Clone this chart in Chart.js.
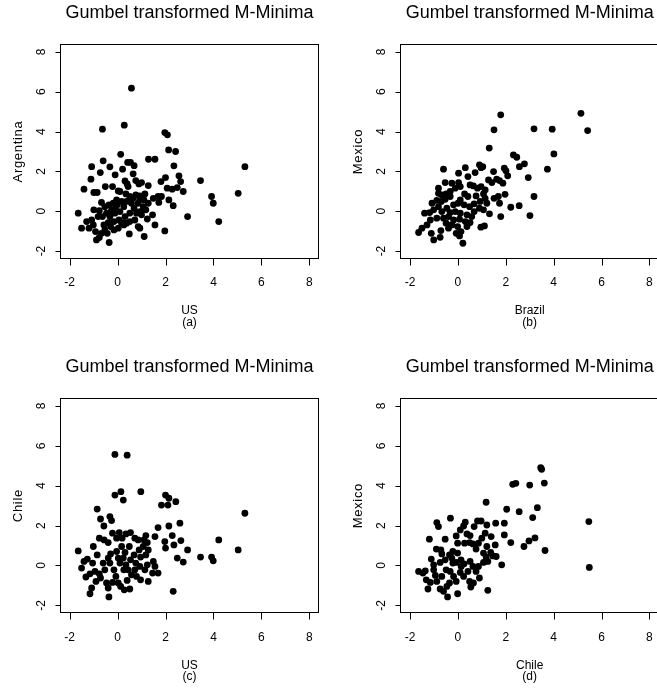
<!DOCTYPE html>
<html>
<head>
<meta charset="utf-8">
<script src="https://cdn.jsdelivr.net/npm/chart.js@4/dist/chart.umd.min.js"></script>
<style>
  html, body { margin: 0; padding: 0; background: #fff; overflow: hidden; }
  #wrap { position: relative; width: 657px; height: 694px; overflow: hidden; }
  #wrap canvas { position: absolute; left: 0; top: 0; }
</style>
</head>
<body>
<div id="wrap">
  <canvas id="pa" width="670" height="694"></canvas>
  <canvas id="pb" width="670" height="694"></canvas>
  <canvas id="pc" width="670" height="694"></canvas>
  <canvas id="pd" width="670" height="694"></canvas>
</div>
<script>
// Shared axis ticks for every panel (both axes)
const axisTicks = [-2, 0, 2, 4, 6, 8];
const axisMin = -2.4;
const axisMax = 8.4;
const plotTitle = 'Gumbel transformed M-Minima';

// (a) US vs Argentina
const usArgentina = [
  [0.58,6.18],[-0.63,4.12],[0.28,4.32],[1.97,3.95],[2.08,3.84],[0.13,2.86],[2.13,3.08],[2.42,3.0],
  [-0.6,2.53],[0.42,2.45],[0.54,2.45],[0.69,2.29],[1.29,2.61],[1.56,2.61],[2.35,2.28],[-1.08,2.24],
  [-0.72,1.94],[-0.32,2.23],[0.21,2.11],[-0.1,1.83],[-1.11,1.61],[0.65,1.88],[2.56,1.78],[2.0,1.69],
  [1.81,1.49],[2.63,1.49],[0.31,1.52],[0.4,1.37],[0.76,1.54],[0.89,1.37],[1.0,1.44],[-1.4,1.11],
  [-0.51,1.24],[-0.21,1.24],[0.03,1.02],[0.44,1.24],[1.28,1.29],[2.07,1.16],[2.28,1.11],[2.49,1.19],
  [2.74,0.99],[-0.99,0.94],[-0.85,0.94],[0.1,0.99],[0.35,0.87],[0.51,0.74],[0.76,0.82],[0.93,0.77],
  [1.14,0.87],[1.49,0.65],[1.69,0.74],[1.83,0.74],[1.72,0.44],[2.14,0.57],[2.32,0.28],[2.92,-0.27],
  [1.97,-0.99],[1.11,-1.27],[0.49,-1.14],[-0.35,-1.57],[-0.88,-1.44],[-0.76,-1.32],[-1.64,-0.1],
  [-1.5,-0.85],[-1.29,-0.52],[-1.19,-0.85],[-1.08,-0.44],[-1.01,-0.69],[-0.92,-1.02],[-0.67,-1.11],
  [-0.53,-0.94],[-0.43,-1.11],[-0.15,-0.94],[1.56,-0.69],[1.24,-0.39],[1.46,-0.18],[1.0,-0.18],
  [-0.67,0.44],[-0.99,0.07],[-0.76,0.03],[-0.53,0.23],[-0.36,0.32],[-0.18,0.4],[-0.04,0.57],[0.17,0.49],
  [-0.07,0.23],[-0.25,0.07],[-0.46,-0.1],[-0.63,-0.27],[-0.32,-0.27],[-0.11,-0.1],[0.1,-0.02],[0.26,0.23],
  [0.38,0.49],[0.58,0.4],[0.69,0.15],[0.86,0.4],[1.07,0.23],[1.18,0.07],[0.93,-0.02],[0.79,-0.1],
  [0.51,-0.1],[0.31,-0.27],[0.06,-0.44],[-0.15,-0.52],[-0.39,-0.57],[-0.57,-0.69],[0.17,-0.6],[0.38,-0.6],
  [0.21,-0.57],[0.51,-0.52],[0.72,-0.44],[0.86,-0.77],[0.93,-0.85],[0.03,-0.85],[0.26,-0.69],[-0.29,-0.77],
  [-0.81,-0.27],[-0.29,-0.07],[1.28,0.4],[1.1,0.57],[0.65,0.65],[0.93,0.6],[-0.01,0.32],
  [5.31,2.24],[3.46,1.54],[3.92,0.74],[3.99,0.4],[5.03,0.9],[4.22,-0.52]
];

// (b) Brazil vs Mexico
const brazilMexico = [
  [1.79,4.84],[1.51,4.09],[1.31,3.17],[-0.6,2.11],[0.03,1.91],[0.31,2.19],[0.42,1.74],[0.9,2.33],
  [0.97,2.19],[1.04,2.24],[0.72,1.94],[1.49,1.99],[1.94,2.16],[2.01,2.03],[2.08,1.78],[2.32,2.83],
  [2.46,2.71],[2.57,2.24],[-0.53,1.44],[-0.25,1.41],[0.03,1.44],[0.1,1.24],[-0.11,1.16],[-0.81,1.16],
  [-0.32,0.99],[-0.67,0.82],[-0.49,0.87],[0.51,1.32],[0.65,1.27],[0.82,1.16],[0.97,1.24],[1.14,1.07],
  [1.28,1.57],[1.42,1.44],[1.62,1.61],[1.74,1.54],[1.88,1.41],[0.28,0.87],[0.42,0.74],[0.76,0.77],
  [1.07,0.87],[1.14,0.65],[1.51,0.65],[1.69,0.74],[1.97,0.85],[1.74,0.4],[1.21,0.4],[0.93,0.49],
  [0.68,0.37],[0.49,0.23],[0.9,0.15],[0.68,-0.02],[1.07,0.07],[1.32,-0.13],[2.21,0.2],[2.56,0.28],
  [1.79,-0.27],[1.11,-0.74],[0.96,-0.8],[-1.08,0.4],[-0.88,0.54],[-0.69,0.49],[-0.53,0.6],[-0.32,0.74],
  [-0.81,0.23],[-1.01,0.07],[-1.18,-0.07],[-1.39,-0.1],[-0.67,-0.02],[-0.46,0.15],[-0.18,0.32],[0.01,0.4],
  [0.1,0.57],[0.26,0.32],[-0.11,-0.02],[0.1,-0.1],[0.38,-0.18],[0.58,-0.27],[0.51,-0.57],[0.31,-0.52],
  [0.07,-0.4],[-0.18,-0.44],[-0.39,-0.27],[-0.6,-0.35],[-0.88,-0.35],[-1.15,-0.44],[-1.29,-0.69],
  [-1.5,-0.85],[-1.64,-1.07],[-1.11,-1.11],[-1.01,-1.44],[-0.74,-1.31],[-0.71,-0.97],[-0.39,-0.85],
  [-0.25,-0.69],[-0.49,-0.6],[-0.07,-1.11],[0.07,-1.24],[0.13,-1.02],[0.21,-1.61],[-0.01,-0.77],
  [0.38,-0.77],[-0.32,-0.07],[-0.81,0.9],
  [5.14,4.92],[5.42,4.05],[3.18,4.14],[3.94,4.12],[4.01,2.88],[2.78,2.38],[3.74,2.11],[2.94,1.69],
  [3.18,0.74],[3.01,-0.22]
];

// (c) US vs Chile
const usChile = [
  [-0.11,5.57],[0.4,5.53],[0.97,3.7],[-0.11,3.53],[0.14,3.7],[0.24,3.28],[2.0,3.53],[2.14,3.37],
  [1.83,3.03],[2.1,3.03],[2.43,3.2],[-0.85,2.83],[-0.71,2.33],[-0.32,2.45],[-0.25,2.25],[-0.57,1.98],
  [1.69,1.9],[2.14,1.98],[2.6,2.12],[-0.76,1.37],[-0.56,1.28],[-0.39,1.15],[-0.21,1.62],[0.07,1.65],
  [0.35,1.58],[0.54,1.65],[0.19,1.37],[-0.04,1.37],[0.72,1.37],[0.86,1.28],[1.18,1.5],[1.1,1.28],
  [1.56,1.45],[1.24,1.15],[2.28,1.5],[1.97,1.2],[2.64,1.25],[2.35,1.03],[2.0,0.87],[2.92,0.78],
  [2.49,0.37],[2.74,0.17],[2.32,-1.3],[-1.64,0.73],[-1.4,0.2],[-1.26,0.32],[-1.5,-0.13],[-1.01,0.95],
  [-0.85,0.53],[-1.04,0.12],[-1.32,-0.58],[-1.15,-0.42],[-1.08,-1.13],[-1.15,-1.42],[-0.94,-0.3],
  [-0.76,-0.42],[-0.9,-0.8],[-0.71,-0.63],[-0.53,-0.22],[-0.6,0.12],[-0.39,0.37],[-0.29,0.58],
  [-0.32,0.12],[-0.46,-0.88],[-0.39,-1.13],[-0.36,-1.58],[-0.07,-0.55],[-0.15,-0.22],[0.03,-0.88],
  [0.13,-1.05],[-0.04,0.7],[0.17,0.95],[0.31,0.65],[0.49,0.95],[0.24,0.37],[0.1,0.12],[0.35,0.03],
  [0.54,0.28],[0.69,0.53],[0.9,0.78],[1.07,0.95],[1.28,0.78],[1.18,0.53],[0.96,0.42],[0.76,0.12],
  [0.44,-0.22],[0.26,-0.22],[0.58,-0.47],[0.72,-0.22],[0.93,-0.05],[1.14,-0.22],[1.24,0.03],[1.49,0.2],
  [1.56,-0.05],[1.46,-0.38],[1.69,-0.38],[1.28,-0.8],[0.96,-0.72],[0.28,-1.22],[0.51,-1.18],[0.4,-0.75],
  [-0.21,-0.85],[0.79,-0.55],[0.03,0.37],
  [5.31,2.62],[3.46,0.42],[3.92,0.42],[3.99,0.23],[4.22,1.28],[5.03,0.78]
];

// (d) Chile vs Mexico
const chileMexico = [
  [2.29,4.07],[2.42,4.12],[1.18,3.17],[2.04,2.82],[2.56,2.7],[-0.31,2.37],[-0.88,2.15],[-0.81,1.95],
  [0.31,2.17],[0.24,1.98],[0.82,2.23],[0.97,2.23],[0.68,1.95],[1.21,2.03],[1.58,2.12],[1.94,2.12],
  [0.1,1.78],[0.38,1.58],[0.51,1.5],[1.14,1.62],[1.39,1.45],[1.94,1.53],[2.21,1.15],[-0.07,1.48],
  [-0.01,1.12],[-0.53,1.32],[-1.19,1.32],[0.28,1.12],[0.49,1.15],[0.63,1.08],[0.86,1.12],[1.0,1.37],
  [1.21,0.95],[1.56,1.03],[0.76,0.82],[-0.9,0.82],[-0.71,0.78],[-0.67,0.58],[-0.21,0.7],[-0.35,0.53],
  [-0.01,0.62],[1.07,0.62],[1.37,0.65],[1.46,0.48],[1.6,0.45],[-1.11,0.32],[-1.01,0.03],[-0.74,0.15],
  [-0.53,0.28],[-0.25,0.37],[-0.07,0.15],[0.13,0.28],[0.26,0.08],[0.51,0.2],[0.86,-0.05],[1.07,0.15],
  [1.25,0.2],[1.18,0.42],[1.83,0.03],[-1.64,-0.3],[-1.46,-0.38],[-1.36,-0.27],[-1.32,-0.72],
  [-1.15,-0.85],[-1.25,-1.18],[-1.01,-0.22],[-0.94,-0.5],[-0.88,-0.8],[-0.67,-0.55],[-0.74,-1.18],
  [-0.6,-1.3],[-0.43,-1.58],[-0.49,-0.22],[-0.32,-0.3],[-0.18,-0.55],[-0.35,-0.88],[-0.07,-0.8],
  [-0.01,-1.42],[0.1,-0.35],[0.24,-0.55],[0.42,-0.3],[0.49,-0.8],[0.54,-1.08],[0.65,-0.88],[0.76,-0.3],
  [0.9,-0.63],[0.63,-0.05],[0.14,-0.05],[1.25,-1.25],[-0.21,0.12],[-0.46,-1.05],
  [3.46,4.9],[3.5,4.82],[3.0,4.03],[3.61,4.13],[3.32,2.9],[3.125,2.4],[5.47,2.2],[2.76,0.95],
  [2.97,1.23],[3.22,1.38],[3.64,0.75],[5.49,-0.1]
];

const FONT = '"Liberation Sans", Arial, Helvetica, sans-serif';

// Draws the framed box, tick marks and all labels of one panel
const panelFrame = {
  id: 'panelFrame',
  afterDraw(chart, args, opts) {
    const { ctx, chartArea: a, scales } = chart;
    const sx = scales.x, sy = scales.y;
    ctx.save();
    ctx.strokeStyle = '#000';
    ctx.lineWidth = 1;
    const L = Math.round(a.left) + 0.5, T = Math.round(a.top) + 0.5;
    const R = Math.round(a.right) - 0.5, B = Math.round(a.bottom) - 0.5;
    ctx.strokeRect(L, T, R - L, B - T);

    ctx.beginPath();
    axisTicks.forEach(v => {
      const px = Math.round(sx.getPixelForValue(v)) + 0.5;
      ctx.moveTo(px, B); ctx.lineTo(px, B + 7);
      const py = Math.round(sy.getPixelForValue(v)) + 0.5;
      ctx.moveTo(L, py); ctx.lineTo(L - 5, py);
    });
    ctx.stroke();

    ctx.fillStyle = '#000';
    ctx.textAlign = 'center';
    ctx.textBaseline = 'middle';
    ctx.font = '12px ' + FONT;
    axisTicks.forEach(v => {
      ctx.fillText(String(v), sx.getPixelForValue(v), a.bottom + 24);
    });
    const cx = (a.left + a.right) / 2;
    ctx.fillText(opts.xTitle, cx, a.bottom + 52);
    ctx.fillText(opts.tag, cx, a.bottom + 63.5);
    ctx.font = '18px ' + FONT;
    ctx.textBaseline = 'alphabetic';
    ctx.fillText(plotTitle, cx, a.top - 26.5);

    // rotated y tick labels and y title
    ctx.textBaseline = 'middle';
    ctx.font = '12px ' + FONT;
    axisTicks.forEach(v => {
      ctx.save();
      ctx.translate(a.left - 18.3, sy.getPixelForValue(v));
      ctx.rotate(-Math.PI / 2);
      ctx.fillText(String(v), 0, 0);
      ctx.restore();
    });
    ctx.save();
    ctx.translate(a.left - 41.7, (a.top + a.bottom) / 2);
    ctx.rotate(-Math.PI / 2);
    ctx.font = '13px ' + FONT;
    ctx.letterSpacing = '0.7px';
    ctx.fillText(opts.yTitle, 0, 0);
    ctx.restore();
    ctx.restore();
  }
};

function makePanel(id, pairs, padding, labels) {
  return new Chart(document.getElementById(id), {
    type: 'scatter',
    data: {
      datasets: [{
        data: pairs.map(p => ({ x: p[0], y: p[1] })),
        pointRadius: 3.4,
        pointHoverRadius: 3.4,
        backgroundColor: '#000',
        borderWidth: 0
      }]
    },
    options: {
      responsive: false,
      maintainAspectRatio: false,
      devicePixelRatio: 1,
      animation: false,
      events: [],
      layout: { padding },
      scales: {
        x: { type: 'linear', min: axisMin, max: axisMax, display: false },
        y: { type: 'linear', min: axisMin, max: axisMax, display: false }
      },
      plugins: {
        legend: { display: false },
        tooltip: { enabled: false },
        panelFrame: labels
      }
    },
    plugins: [panelFrame]
  });
}

// canvases are 670x694; padding places each plot box
makePanel('pa', usArgentina, { left: 60, top: 44, right: 351, bottom: 435 },
  { xTitle: 'US', tag: '(a)', yTitle: 'Argentina' });
makePanel('pb', brazilMexico, { left: 400.4, top: 44, right: 11, bottom: 435 },
  { xTitle: 'Brazil', tag: '(b)', yTitle: 'Mexico' });
makePanel('pc', usChile, { left: 60, top: 398, right: 351, bottom: 80.7 },
  { xTitle: 'US', tag: '(c)', yTitle: 'Chile' });
makePanel('pd', chileMexico, { left: 400.4, top: 398, right: 11, bottom: 80.7 },
  { xTitle: 'Chile', tag: '(d)', yTitle: 'Mexico' });
</script>
</body>
</html>
